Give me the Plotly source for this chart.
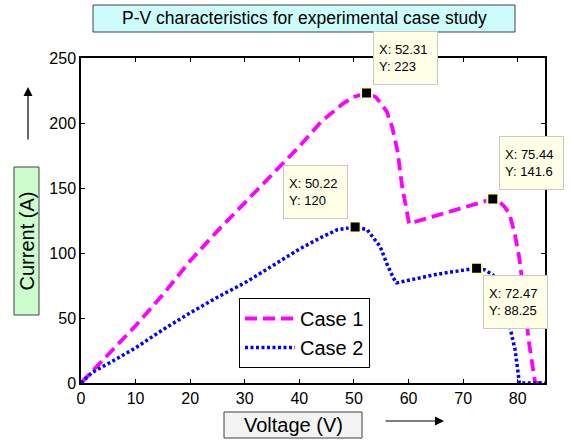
import plotly.graph_objects as go

# ---------------- data ----------------
v_case1 = [0, 5, 10, 15, 20, 25, 30, 35, 40, 44, 48, 50, 52.31, 54, 56, 57, 58, 58.8, 59.5, 60.1,
           62, 64, 67, 70, 73, 75.44, 76.5, 77.5, 78.5, 79.5, 80.3, 81.2, 82, 82.7, 83.2, 85]
i_case1 = [0, 22, 44, 68, 94, 117, 139, 161, 182, 201, 215, 220, 223, 220, 209, 197, 178, 152, 134, 122.5,
           125, 127.5, 131, 134.5, 138, 141.6, 140, 136, 130, 114, 96, 66, 33, 12, 0, 0]

v_case2 = [0, 2, 5, 10, 15, 20, 25, 30, 35, 40, 44, 47, 50.22, 52.4, 54.8, 56, 57.2, 57.8, 60, 62, 65, 68,
           70.7, 72.47, 74, 75.5, 76.5, 77.5, 78.2, 79, 79.5, 80, 80.3, 85]
i_case2 = [0, 8, 15, 27, 41, 54, 66, 77, 90, 103, 112, 118, 120, 118, 105, 92, 81, 77, 79, 81, 83.5, 85.5,
           87, 88.25, 87, 83, 74, 60, 51, 35, 26, 10, 0, 0]

tip_x = [52.31, 50.22, 75.44, 72.47]
tip_y = [223, 120, 141.6, 88.25]

series_names = ["Case 1", "Case 2"]
title_text = "P-V characteristics for experimental case study"
x_title = "Voltage (V)"
y_title = "Current (A)"
x_ticks = [0, 10, 20, 30, 40, 50, 60, 70, 80]
y_ticks = [0, 50, 100, 150, 200, 250]

# ---------------- layout helpers ----------------
W, H = 571, 440
L, R, T, B = 81, 545, 58, 383


def px(x):
    return (x - L) / (R - L)


def py(y):
    return (B - y) / (B - T)


FONT = "Liberation Sans, Arial, Helvetica, sans-serif"

fig = go.Figure()
fig.add_trace(go.Scatter(x=v_case1, y=i_case1, mode="lines", name=series_names[0],
                         line=dict(color="#ff00ff", width=3.8, dash="12px,6px")))
fig.add_trace(go.Scatter(x=v_case2, y=i_case2, mode="lines", name=series_names[1],
                         line=dict(color="#0000ff", width=3.5, dash="3px,2.5px")))
fig.add_trace(go.Scatter(x=tip_x, y=tip_y, mode="markers", showlegend=False,
                         marker=dict(symbol="square", size=11, color="black",
                                     line=dict(color="#ffffc8", width=2))))

# datatip boxes (anchor, shift)
tip_style = [
    dict(xanchor="left", yanchor="bottom", xshift=6, yshift=8),
    dict(xanchor="right", yanchor="bottom", xshift=-7, yshift=8),
    dict(xanchor="left", yanchor="bottom", xshift=6, yshift=9),
    dict(xanchor="left", yanchor="top", xshift=6, yshift=-7),
]
annotations = []
for x, y, st in zip(tip_x, tip_y, tip_style):
    annotations.append(dict(
        x=x, y=y, xref="x", yref="y", showarrow=False,
        text=f"X: {x:g}<br>Y: {y:g}", align="left",
        font=dict(family=FONT, size=13, color="black"),
        bgcolor="#ffffe8", bordercolor="#c8c8c8", borderwidth=1, borderpad=5,
        width=53, height=42, **st))

# title
annotations.append(dict(x=px(304), y=py(18.5), xref="paper", yref="paper", showarrow=False,
                        text=title_text, font=dict(family=FONT, size=17.5, color="black"),
                        xanchor="center", yanchor="middle"))
# y label
annotations.append(dict(x=px(26.5), y=py(241), xref="paper", yref="paper", showarrow=False,
                        text=y_title, textangle=-90, font=dict(family=FONT, size=20, color="black"),
                        xanchor="center", yanchor="middle"))
# x label
annotations.append(dict(x=px(293), y=py(425), xref="paper", yref="paper", showarrow=False,
                        text=x_title, font=dict(family=FONT, size=20, color="black"),
                        xanchor="center", yanchor="middle"))
# arrows
annotations.append(dict(x=px(28), y=py(87), xref="paper", yref="paper",
                        ax=0, ay=54, axref="pixel", ayref="pixel",
                        showarrow=True, arrowhead=2, arrowsize=1.5, arrowwidth=1.2,
                        arrowcolor="black", text=""))
annotations.append(dict(x=px(444), y=py(421), xref="paper", yref="paper",
                        ax=-60, ay=0, axref="pixel", ayref="pixel",
                        showarrow=True, arrowhead=2, arrowsize=1.5, arrowwidth=1.2,
                        arrowcolor="black", text=""))

shapes = [
    dict(type="rect", xref="paper", yref="paper", x0=px(93), x1=px(515), y0=py(32), y1=py(5),
         fillcolor="#ccfcfc", line=dict(color="#404040", width=1), layer="below"),
    dict(type="rect", xref="paper", yref="paper", x0=px(14), x1=px(39), y0=py(315), y1=py(167),
         fillcolor="#ccfccc", line=dict(color="#404040", width=1), layer="below"),
    dict(type="rect", xref="paper", yref="paper", x0=px(224), x1=px(362), y0=py(438), y1=py(412),
         fillcolor="#f4f4f4", line=dict(color="#404040", width=1), layer="below"),
]

fig.update_layout(
    width=W, height=H, autosize=False,
    margin=dict(l=L, r=W - R, t=T, b=H - B, pad=0),
    paper_bgcolor="white", plot_bgcolor="white",
    font=dict(family=FONT, size=16, color="black"),
    showlegend=True,
    legend=dict(x=px(239), y=py(298), xanchor="left", yanchor="top",
                bgcolor="white", bordercolor="black", borderwidth=1,
                font=dict(family=FONT, size=20, color="black"),
                itemwidth=50, tracegroupgap=0),
    annotations=annotations,
    shapes=shapes,
)
fig.update_xaxes(range=[0, 85], tickvals=x_ticks, ticks="inside", ticklen=4, tickwidth=1,
                 tickcolor="black", showline=True, linecolor="black", linewidth=1.5,
                 mirror="ticks", showgrid=False, zeroline=False,
                 tickfont=dict(family=FONT, size=16, color="black"))
fig.update_yaxes(range=[0, 250], tickvals=y_ticks, ticks="inside", ticklen=4, tickwidth=1,
                 tickcolor="black", showline=True, linecolor="black", linewidth=1.5,
                 mirror="ticks", showgrid=False, zeroline=False,
                 tickfont=dict(family=FONT, size=16, color="black"))

fig.write_html("out.html")
